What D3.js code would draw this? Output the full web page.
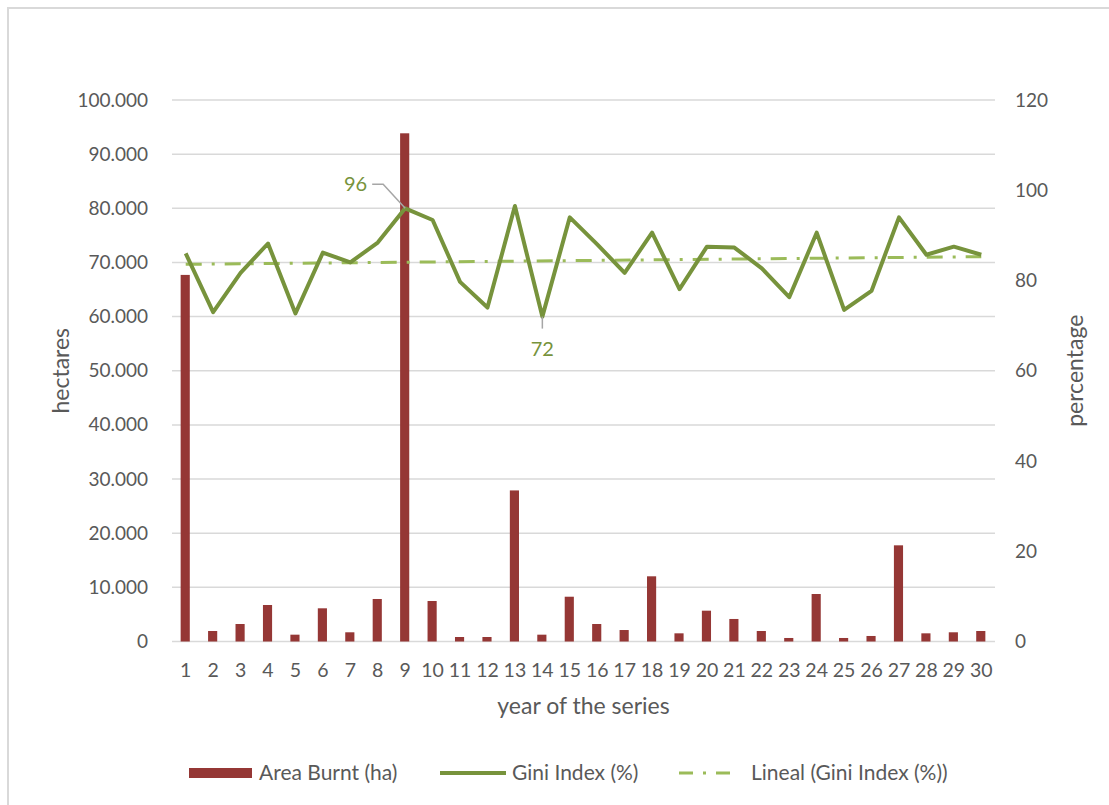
<!DOCTYPE html>
<html>
<head>
<meta charset="utf-8">
<script src="https://cdn.jsdelivr.net/npm/d3@7/dist/d3.min.js"></script>
<style>
  html, body { margin: 0; padding: 0; background: #fff; }
  svg { display: block; font-family: Lato, "Open Sans", sans-serif; }
</style>
</head>
<body>
<svg id="chart" width="1109" height="805"></svg>
<script>
// Year index of the series
const years = d3.range(1, 31);

// Area burnt per year (hectares)
const areaBurnt = [
  67700, 1940, 3230, 6740, 1260, 6130, 1700, 7850, 93850, 7480,
  830, 830, 27900, 1260, 8270, 3230, 2120, 12040, 1510, 5690,
  4160, 1940, 650, 8770, 650, 1020, 17760, 1510, 1700, 1940
];

// Gini index per year (%)
const giniIndex = [
  86, 73, 81.7, 88.2, 72.7, 86.2, 84, 88.4, 96, 93.4,
  79.7, 74, 96.5, 72, 94, 88, 81.7, 90.6, 78.1, 87.5,
  87.3, 82.7, 76.3, 90.6, 73.5, 77.7, 94, 85.7, 87.5, 85.7
];

// Tick values for both value axes
const leftTicks = d3.range(0, 100001, 10000);
const rightTicks = d3.range(0, 121, 20);

// Labelled points on the Gini line: [year, text, placement]
const callouts = [
  [9, "96", "left"],
  [14, "72", "below"]
];

const legendItems = ["Area Burnt (ha)", "Gini Index (%)", "Lineal (Gini Index (%))"];

const colors = {
  bar: "#953735",
  gini: "#77933C",
  trend: "#9BBB59",
  grid: "#D9D9D9",
  text: "#595959",
  leader: "#A6A6A6"
};

const svg = d3.select("#chart");
const x0 = 172, x1 = 995, yTop = 100, yBottom = 641.5;

// Chart frame
svg.append("path")
  .attr("d", `M8,805 L8,8 L1109,8`)
  .attr("fill", "none")
  .attr("stroke", colors.grid)
  .attr("stroke-width", 2);

const x = d3.scaleBand().domain(years).range([x0, x1]).paddingInner(0).paddingOuter(0);
const yLeft = d3.scaleLinear().domain([0, 100000]).range([yBottom, yTop]);
const yRight = d3.scaleLinear().domain([0, 120]).range([yBottom, yTop]);

const fmt = d3.formatLocale({ decimal: ",", thousands: ".", grouping: [3], currency: ["", ""] }).format(",d");

// Gridlines
svg.append("g")
  .selectAll("line")
  .data(leftTicks)
  .join("line")
  .attr("x1", x0).attr("x2", x1)
  .attr("y1", d => yLeft(d)).attr("y2", d => yLeft(d))
  .attr("stroke", colors.grid)
  .attr("stroke-width", 1.5);

// Left axis
const leftAxis = svg.append("g")
  .attr("transform", `translate(${x0 - 24},0)`)
  .call(d3.axisLeft(yLeft).tickValues(leftTicks).tickFormat(fmt).tickSize(0).tickPadding(0));
leftAxis.select(".domain").remove();
leftAxis.selectAll("text")
  .attr("font-size", 19).attr("fill", colors.text).attr("font-family", "Lato, sans-serif");

// Right axis
const rightAxis = svg.append("g")
  .attr("transform", `translate(${x1 + 20},0)`)
  .call(d3.axisRight(yRight).tickValues(rightTicks).tickSize(0).tickPadding(0));
rightAxis.select(".domain").remove();
rightAxis.selectAll("text")
  .attr("font-size", 19).attr("fill", colors.text).attr("font-family", "Lato, sans-serif");

// Bottom axis
const bottomAxis = svg.append("g")
  .attr("transform", `translate(0,${yBottom + 22})`)
  .call(d3.axisBottom(x).tickSize(0).tickPadding(0));
bottomAxis.select(".domain").remove();
bottomAxis.selectAll("text")
  .attr("font-size", 19.5).attr("fill", colors.text).attr("font-family", "Lato, sans-serif");

// Axis titles
svg.append("text")
  .attr("transform", `translate(69,${(yTop + yBottom) / 2}) rotate(-90)`)
  .attr("text-anchor", "middle")
  .attr("font-size", 23).attr("fill", colors.text)
  .text("hectares");
svg.append("text")
  .attr("transform", `translate(1083,${(yTop + yBottom) / 2}) rotate(-90)`)
  .attr("text-anchor", "middle")
  .attr("font-size", 23).attr("fill", colors.text)
  .text("percentage");
svg.append("text")
  .attr("x", (x0 + x1) / 2).attr("y", 714)
  .attr("text-anchor", "middle")
  .attr("font-size", 23).attr("fill", colors.text)
  .text("year of the series");

// Bars: area burnt
const barW = x.bandwidth() / 3;
svg.append("g")
  .selectAll("rect")
  .data(years)
  .join("rect")
  .attr("x", d => x(d) + x.bandwidth() / 2 - barW / 2 - 0.5)
  .attr("width", barW)
  .attr("y", (d, i) => yLeft(areaBurnt[i]))
  .attr("height", (d, i) => yBottom - yLeft(areaBurnt[i]))
  .attr("fill", colors.bar);

const cx = d => x(d) + x.bandwidth() / 2;

// Linear trend of the Gini index (least squares)
const n = years.length;
const mx = d3.mean(years), my = d3.mean(giniIndex);
const slope = d3.sum(years, (d, i) => (d - mx) * (giniIndex[i] - my)) / d3.sum(years, d => (d - mx) ** 2);
const intercept = my - slope * mx;
const trendEnds = [years[0], years[n - 1]];

svg.append("path")
  .datum(trendEnds)
  .attr("d", d3.line().x(d => cx(d)).y(d => yRight(intercept + slope * d)))
  .attr("fill", "none")
  .attr("stroke", colors.trend)
  .attr("stroke-width", 3)
  .attr("stroke-dasharray", "16,10,3,10");

// Gini index line
svg.append("path")
  .datum(years)
  .attr("d", d3.line().x(d => cx(d)).y((d, i) => yRight(giniIndex[i])))
  .attr("fill", "none")
  .attr("stroke", colors.gini)
  .attr("stroke-width", 4)
  .attr("stroke-linejoin", "round");

// Callout labels with leader lines
callouts.forEach(([yr, label, place]) => {
  const px = cx(yr), py = yRight(giniIndex[yr - 1]);
  if (place === "left") {
    svg.append("path")
      .attr("d", `M${px},${py} L${px - 22},${py - 24} L${px - 33},${py - 24}`)
      .attr("fill", "none").attr("stroke", colors.leader).attr("stroke-width", 1.5);
    svg.append("text")
      .attr("x", px - 38).attr("y", py - 24)
      .attr("dy", "0.35em")
      .attr("text-anchor", "end")
      .attr("font-size", 20).attr("fill", colors.gini)
      .text(label);
  } else {
    svg.append("path")
      .attr("d", `M${px},${py} L${px},${py + 12}`)
      .attr("fill", "none").attr("stroke", colors.leader).attr("stroke-width", 1.5);
    svg.append("text")
      .attr("x", px).attr("y", py + 32)
      .attr("dy", "0.35em")
      .attr("text-anchor", "middle")
      .attr("font-size", 20).attr("fill", colors.gini)
      .text(label);
  }
});

// Legend
const legY = 773;
const legend = svg.append("g");
legend.append("rect")
  .attr("x", 189).attr("y", legY - 5).attr("width", 63).attr("height", 10)
  .attr("fill", colors.bar);
legend.append("text")
  .attr("x", 259).attr("y", legY).attr("dy", "0.35em")
  .attr("font-size", 21).attr("fill", colors.text)
  .text(legendItems[0]);
legend.append("line")
  .attr("x1", 440).attr("x2", 506).attr("y1", legY).attr("y2", legY)
  .attr("stroke", colors.gini).attr("stroke-width", 4);
legend.append("text")
  .attr("x", 512).attr("y", legY).attr("dy", "0.35em")
  .attr("font-size", 21).attr("fill", colors.text)
  .text(legendItems[1]);
legend.append("line")
  .attr("x1", 679).attr("x2", 732).attr("y1", legY).attr("y2", legY)
  .attr("stroke", colors.trend).attr("stroke-width", 3)
  .attr("stroke-dasharray", "14,10,3,10");
legend.append("text")
  .attr("x", 751).attr("y", legY).attr("dy", "0.35em")
  .attr("font-size", 21).attr("fill", colors.text)
  .text(legendItems[2]);
</script>
</body>
</html>
